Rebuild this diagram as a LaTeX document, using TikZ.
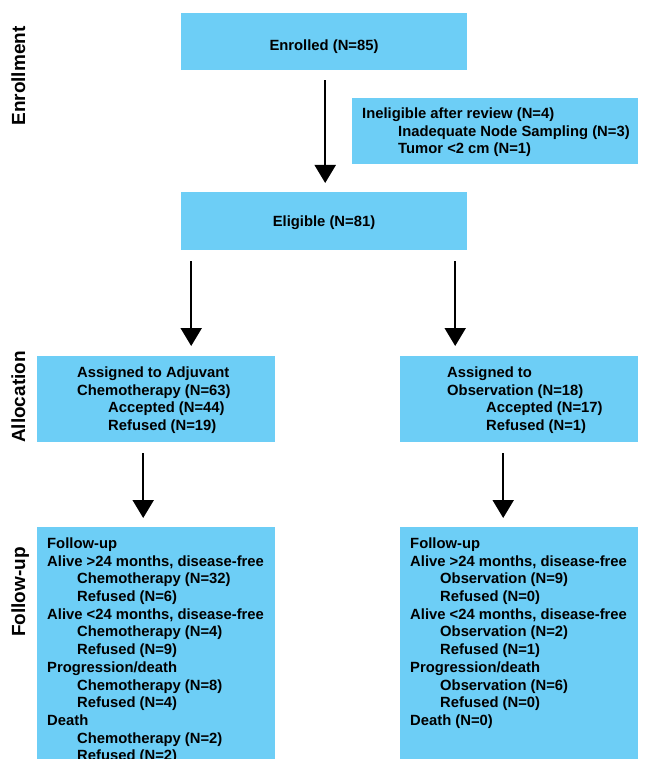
\documentclass[tikz,border=0pt]{standalone}
\usepackage{fontspec}
\setmainfont{Liberation Sans}
\usetikzlibrary{arrows.meta}
\definecolor{boxblue}{RGB}{109,206,246}
\tikzset{
  box/.style={fill=boxblue, draw=none, inner sep=0pt, anchor=north west},
  txt/.style={align=left, inner sep=0pt, anchor=north west,
    font=\fontsize{14.8}{17.7}\selectfont\bfseries},
  phase/.style={rotate=90, inner sep=0pt, anchor=mid,
    font=\fontsize{19}{22}\selectfont\bfseries},
  flow/.style={-{Triangle[width=21pt,length=18pt]}, line width=2pt}
}
\newcommand{\ind}[1]{\hspace*{#1pt}}
\begin{document}
\begin{tikzpicture}[x=1pt,y=-1pt]
  \useasboundingbox (0,0) rectangle (645,759);
  \clip (0,0) rectangle (645,759);

  \node[phase] (enrollment) at (22.5,76) {Enrollment};
  \node[phase] (allocation) at (22.5,397) {Allocation};
  \node[phase] (followup) at (22.5,592) {Follow-up};

  \node[box, minimum width=286pt, minimum height=57pt] (enrolled) at (181,13) {};
  \node[box, minimum width=286pt, minimum height=66pt] (inelig) at (352,98) {};
  \node[box, minimum width=286pt, minimum height=58pt] (eligible) at (181,192) {};
  \node[box, minimum width=238pt, minimum height=86pt] (chemo) at (37,356) {};
  \node[box, minimum width=238pt, minimum height=86pt] (obs) at (400,356) {};
  \node[box, minimum width=238pt, minimum height=260pt] (chemofu) at (37,527) {};
  \node[box, minimum width=238pt, minimum height=260pt] (obsfu) at (400,527) {};

  \node[txt, anchor=center] (enrolledtxt) at (324,46.5) {Enrolled (N=85)};
  \node[txt] (ineligtxt) at (362,107.5) {Ineligible after review (N=4)\\
    \ind{36}Inadequate Node Sampling (N=3)\\
    \ind{36}Tumor <2 cm (N=1)};
  \node[txt, anchor=center] (eligibletxt) at (324,222.5) {Eligible (N=81)};
  \node[txt] (chemotxt) at (77,366.5) {Assigned to Adjuvant\\
    Chemotherapy (N=63)\\
    \ind{31}Accepted (N=44)\\
    \ind{31}Refused (N=19)};
  \node[txt] (obstxt) at (447,366.5) {Assigned to\\
    Observation (N=18)\\
    \ind{39}Accepted (N=17)\\
    \ind{39}Refused (N=1)};
  \node[txt] (chemofutxt) at (47,537.5) {Follow-up\\
    Alive >24 months, disease-free\\
    \ind{30}Chemotherapy (N=32)\\
    \ind{30}Refused (N=6)\\
    Alive <24 months, disease-free\\
    \ind{30}Chemotherapy (N=4)\\
    \ind{30}Refused (N=9)\\
    Progression/death\\
    \ind{30}Chemotherapy (N=8)\\
    \ind{30}Refused (N=4)\\
    Death\\
    \ind{30}Chemotherapy (N=2)\\
    \ind{30}Refused (N=2)};
  \node[txt] (obsfutxt) at (410,537.5) {Follow-up\\
    Alive >24 months, disease-free\\
    \ind{30}Observation (N=9)\\
    \ind{30}Refused (N=0)\\
    Alive <24 months, disease-free\\
    \ind{30}Observation (N=2)\\
    \ind{30}Refused (N=1)\\
    Progression/death\\
    \ind{30}Observation (N=6)\\
    \ind{30}Refused (N=0)\\
    Death (N=0)};

  \begin{scope}[flow]
    \draw[shorten <=10pt, shorten >=9pt] ([xshift=1pt]enrolled.south) to ([xshift=1pt]eligible.north);
    \draw[shorten <=11pt, shorten >=10pt] ([xshift=-133pt]eligible.south) to ([xshift=35pt]chemo.north);
    \draw[shorten <=11pt, shorten >=10pt] ([xshift=131pt]eligible.south) to ([xshift=-64pt]obs.north);
    \draw[shorten <=11pt, shorten >=9pt] ([xshift=-13pt]chemo.south) to ([xshift=-13pt]chemofu.north);
    \draw[shorten <=11pt, shorten >=9pt] ([xshift=-16pt]obs.south) to ([xshift=-16pt]obsfu.north);
  \end{scope}
\end{tikzpicture}
\end{document}
